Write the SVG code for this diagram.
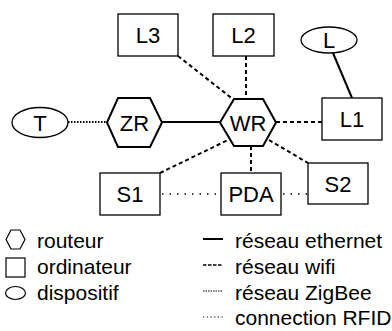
<svg xmlns="http://www.w3.org/2000/svg" width="392" height="331" viewBox="0 0 392 331">
<style>
text{font-family:"Liberation Sans",Arial,sans-serif;fill:#000}
.lbl{font-size:22px;text-anchor:middle}
.leg{font-size:21px}
.box{fill:#fff;stroke:#000;stroke-width:1.3}
.hex{fill:#fff;stroke:#000;stroke-width:2}
.ell{fill:#fff;stroke:#000;stroke-width:1.3}
.eth{stroke:#000;stroke-width:2;fill:none}
.wifi{stroke:#000;stroke-width:2;stroke-dasharray:4 3;fill:none}
.zig{stroke:#000;stroke-width:2;stroke-dasharray:1.5 1.5;fill:none}
.rfid{stroke:#000;stroke-width:1.5;stroke-dasharray:1.5 6;fill:none}
</style>
<rect width="392" height="331" fill="#fff"/>
<g id="connectors">
<line class="wifi" x1="178" y1="56" x2="234" y2="100"/>
<line class="wifi" x1="246" y1="56" x2="246" y2="99"/>
<line class="eth" x1="333" y1="53" x2="352" y2="98"/>
<line class="wifi" x1="276" y1="122" x2="322" y2="122"/>
<line class="eth" x1="162" y1="122" x2="220" y2="122"/>
<line class="zig" x1="68" y1="122" x2="107" y2="122"/>
<line class="wifi" x1="160" y1="173" x2="228" y2="140"/>
<line class="wifi" x1="251" y1="146" x2="251" y2="173"/>
<line class="wifi" x1="269" y1="140" x2="308" y2="163"/>
<line class="rfid" x1="162" y1="194" x2="221" y2="194"/>
<line class="rfid" x1="283" y1="194" x2="308" y2="194"/>
</g>
<g id="L3"><rect class="box" x="118" y="14" width="60" height="42"/><text class="lbl" x="148" y="43">L3</text></g>
<g id="L2"><rect class="box" x="213" y="14" width="61" height="42"/><text class="lbl" x="243.5" y="43">L2</text></g>
<g id="L"><ellipse class="ell" cx="329" cy="40" rx="28" ry="13"/><text class="lbl" x="329" y="48">L</text></g>
<g id="T"><ellipse class="ell" cx="40" cy="122.5" rx="28" ry="15"/><text class="lbl" x="40" y="130.5">T</text></g>
<g id="ZR"><polygon class="hex" points="107,122.5 118,98 150,98 162,122.5 150,147 118,147"/><text class="lbl" x="134.5" y="130.5">ZR</text></g>
<g id="WR"><polygon class="hex" points="220,122.5 234,99 263,99 276,122.5 263,146 234,146"/><text class="lbl" x="248" y="130.5">WR</text></g>
<g id="L1"><rect class="box" x="322" y="98" width="60" height="42"/><text class="lbl" x="352" y="127">L1</text></g>
<g id="S1"><rect class="box" x="100" y="173" width="60" height="42"/><text class="lbl" x="130" y="202">S1</text></g>
<g id="PDA"><rect class="box" x="221" y="173" width="60" height="42"/><text class="lbl" x="251" y="202">PDA</text></g>
<g id="S2"><rect class="box" x="308" y="163" width="60" height="41"/><text class="lbl" x="338" y="191.5">S2</text></g>
<g id="legend">
<polygon points="6,239.5 11,230 20,230 25,239.5 20,249 11,249" fill="#fff" stroke="#000" stroke-width="1.2"/>
<text class="leg" x="37" y="248">routeur</text>
<rect x="6" y="258" width="19" height="19" fill="#fff" stroke="#000" stroke-width="1.2"/>
<text class="leg" x="37" y="274">ordinateur</text>
<ellipse cx="15.5" cy="293" rx="10" ry="6.5" fill="#fff" stroke="#000" stroke-width="1.2"/>
<text class="leg" x="37" y="300">dispositif</text>
<line class="eth" x1="203" y1="239" x2="223" y2="239"/>
<text class="leg" x="235" y="248">réseau ethernet</text>
<line class="wifi" x1="203" y1="265" x2="223" y2="265" style="stroke-width:1.5;stroke-dasharray:3.5 1.5"/>
<text class="leg" x="235" y="274">réseau wifi</text>
<line class="zig" x1="203" y1="291" x2="223" y2="291" style="stroke-width:1.2;stroke-dasharray:1.5 1"/>
<text class="leg" x="235" y="300">réseau ZigBee</text>
<line class="rfid" x1="203" y1="317" x2="223" y2="317" style="stroke-width:1.2;stroke-dasharray:1.2 2.5"/>
<text class="leg" x="235" y="325">connection RFID</text>
</g>
</svg>
